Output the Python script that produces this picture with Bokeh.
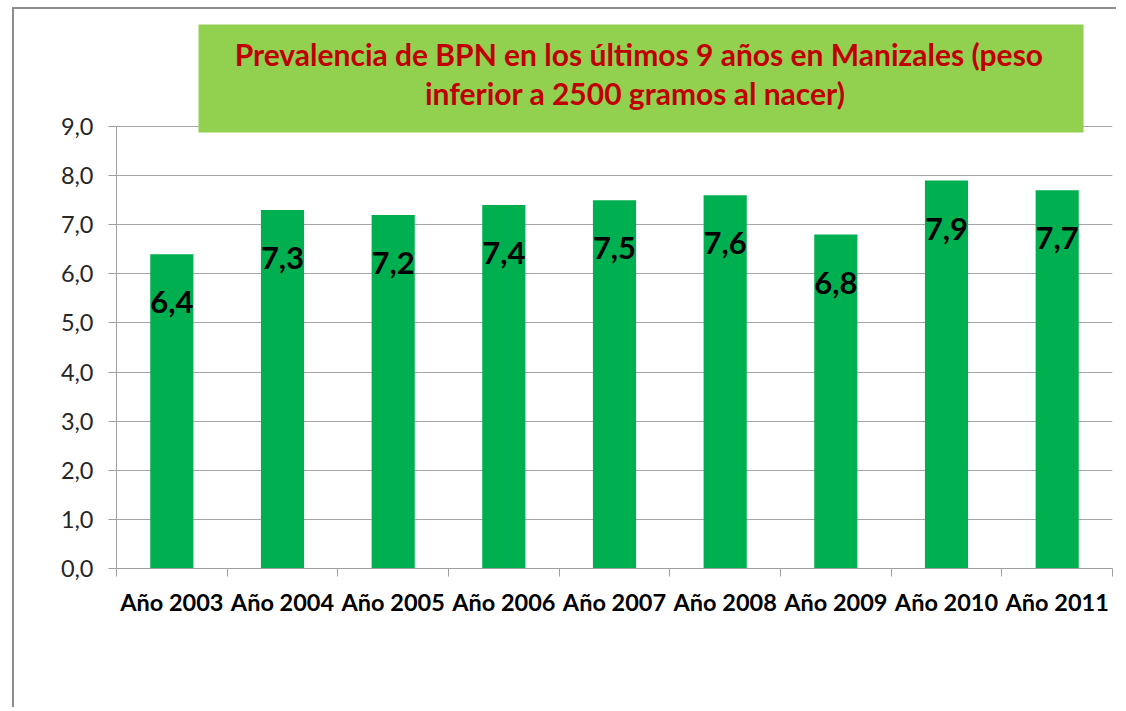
from bokeh.plotting import figure
from bokeh.models import FixedTicker, LabelSet, Label, BoxAnnotation, ColumnDataSource, Range1d
from bokeh.core.properties import value
from bokeh.embed import file_html
from bokeh.resources import INLINE

categories = ["Año 2003", "Año 2004", "Año 2005", "Año 2006", "Año 2007",
              "Año 2008", "Año 2009", "Año 2010", "Año 2011"]
values = [6.4, 7.3, 7.2, 7.4, 7.5, 7.6, 6.8, 7.9, 7.7]
y_ticks = [0, 1, 2, 3, 4, 5, 6, 7, 8, 9]
title_lines = ["Prevalencia de BPN en los últimos 9 años en Manizales (peso",
               "inferior  a 2500 gramos al nacer)"]

FONT = "Lato"
n = len(categories)
xc = [i + 0.5 for i in range(n)]
src = ColumnDataSource(dict(x=xc, top=values,
                            lbl=[f"{v:.1f}".replace(".", ",") for v in values]))

# frame: 442 px for 9 units; extra headroom above 9 holds the title box
PX_PER_UNIT = 442 / 9
Y_TOP = 549 / PX_PER_UNIT

p = figure(width=1104, height=700, output_backend="svg", toolbar_location=None,
           x_range=Range1d(0, n), y_range=Range1d(0, Y_TOP),
           min_border_left=102, min_border_right=6, min_border_top=10, min_border_bottom=141)
p.styles = {"border-top": "2px solid #8c8c8c", "border-left": "2px solid #8c8c8c",
            "margin-left": "12px", "margin-top": "7px"}
p.outline_line_color = None
p.background_fill_color = "white"
p.border_fill_color = "white"

p.vbar(x="x", top="top", width=0.39, source=src, fill_color="#00B050", line_color=None)

# x axis
p.xaxis.ticker = FixedTicker(ticks=xc, minor_ticks=list(range(n + 1)))
p.xaxis.major_label_overrides = {x: c for x, c in zip(xc, categories)}
p.xaxis.major_tick_out = 0
p.xaxis.major_tick_in = 0
p.xaxis.minor_tick_out = 8
p.xaxis.minor_tick_in = 0
p.xaxis.minor_tick_line_color = "#a0a0a0"
p.xaxis.axis_line_color = "#a0a0a0"
p.xaxis.major_label_text_font = FONT
p.xaxis.major_label_text_font_style = "bold"
p.xaxis.major_label_text_font_size = "23.5px"
p.xaxis.major_label_text_color = "#000000"
p.xaxis.major_label_standoff = 11

# y axis
p.yaxis.ticker = FixedTicker(ticks=y_ticks)
p.yaxis.bounds = (0, 9)
p.yaxis.major_label_overrides = {t: f"{t:.1f}".replace(".", ",") for t in y_ticks}
p.yaxis.major_tick_out = 8
p.yaxis.major_tick_in = 0
p.yaxis.minor_tick_line_color = None
p.yaxis.major_tick_line_color = "#a0a0a0"
p.yaxis.axis_line_color = "#a0a0a0"
p.yaxis.major_label_text_font = FONT
p.yaxis.major_label_text_font_size = "23.5px"
p.yaxis.major_label_text_color = "#262626"
p.yaxis.major_label_standoff = 15

p.xgrid.grid_line_color = None
p.ygrid.grid_line_color = "#a6a6a6"
p.ygrid.grid_line_width = 1

labels = LabelSet(x="x", y="top", text="lbl", source=src, y_offset=-59,
                  text_align="center", text_baseline="alphabetic",
                  text_font=value(FONT), text_font_style="bold", text_font_size="31px",
                  text_color="#000000")
p.add_layout(labels)

# title box (green) sitting over the top of the plot area
box = BoxAnnotation(left=0.741, right=8.738, top=11.077, bottom=8.878,
                    fill_color="#92D050", fill_alpha=1.0, line_color=None, level="overlay")
p.add_layout(box)

for line, yy in zip(title_lines, [10.47, 9.69]):
    p.add_layout(Label(x=4.72, y=yy, text=line,
                       text_align="center", text_baseline="alphabetic",
                       text_font=FONT, text_font_style="bold", text_font_size="30px",
                       text_color="#C00000", level="overlay"))

open("out.html", "w").write(file_html(p, INLINE))
